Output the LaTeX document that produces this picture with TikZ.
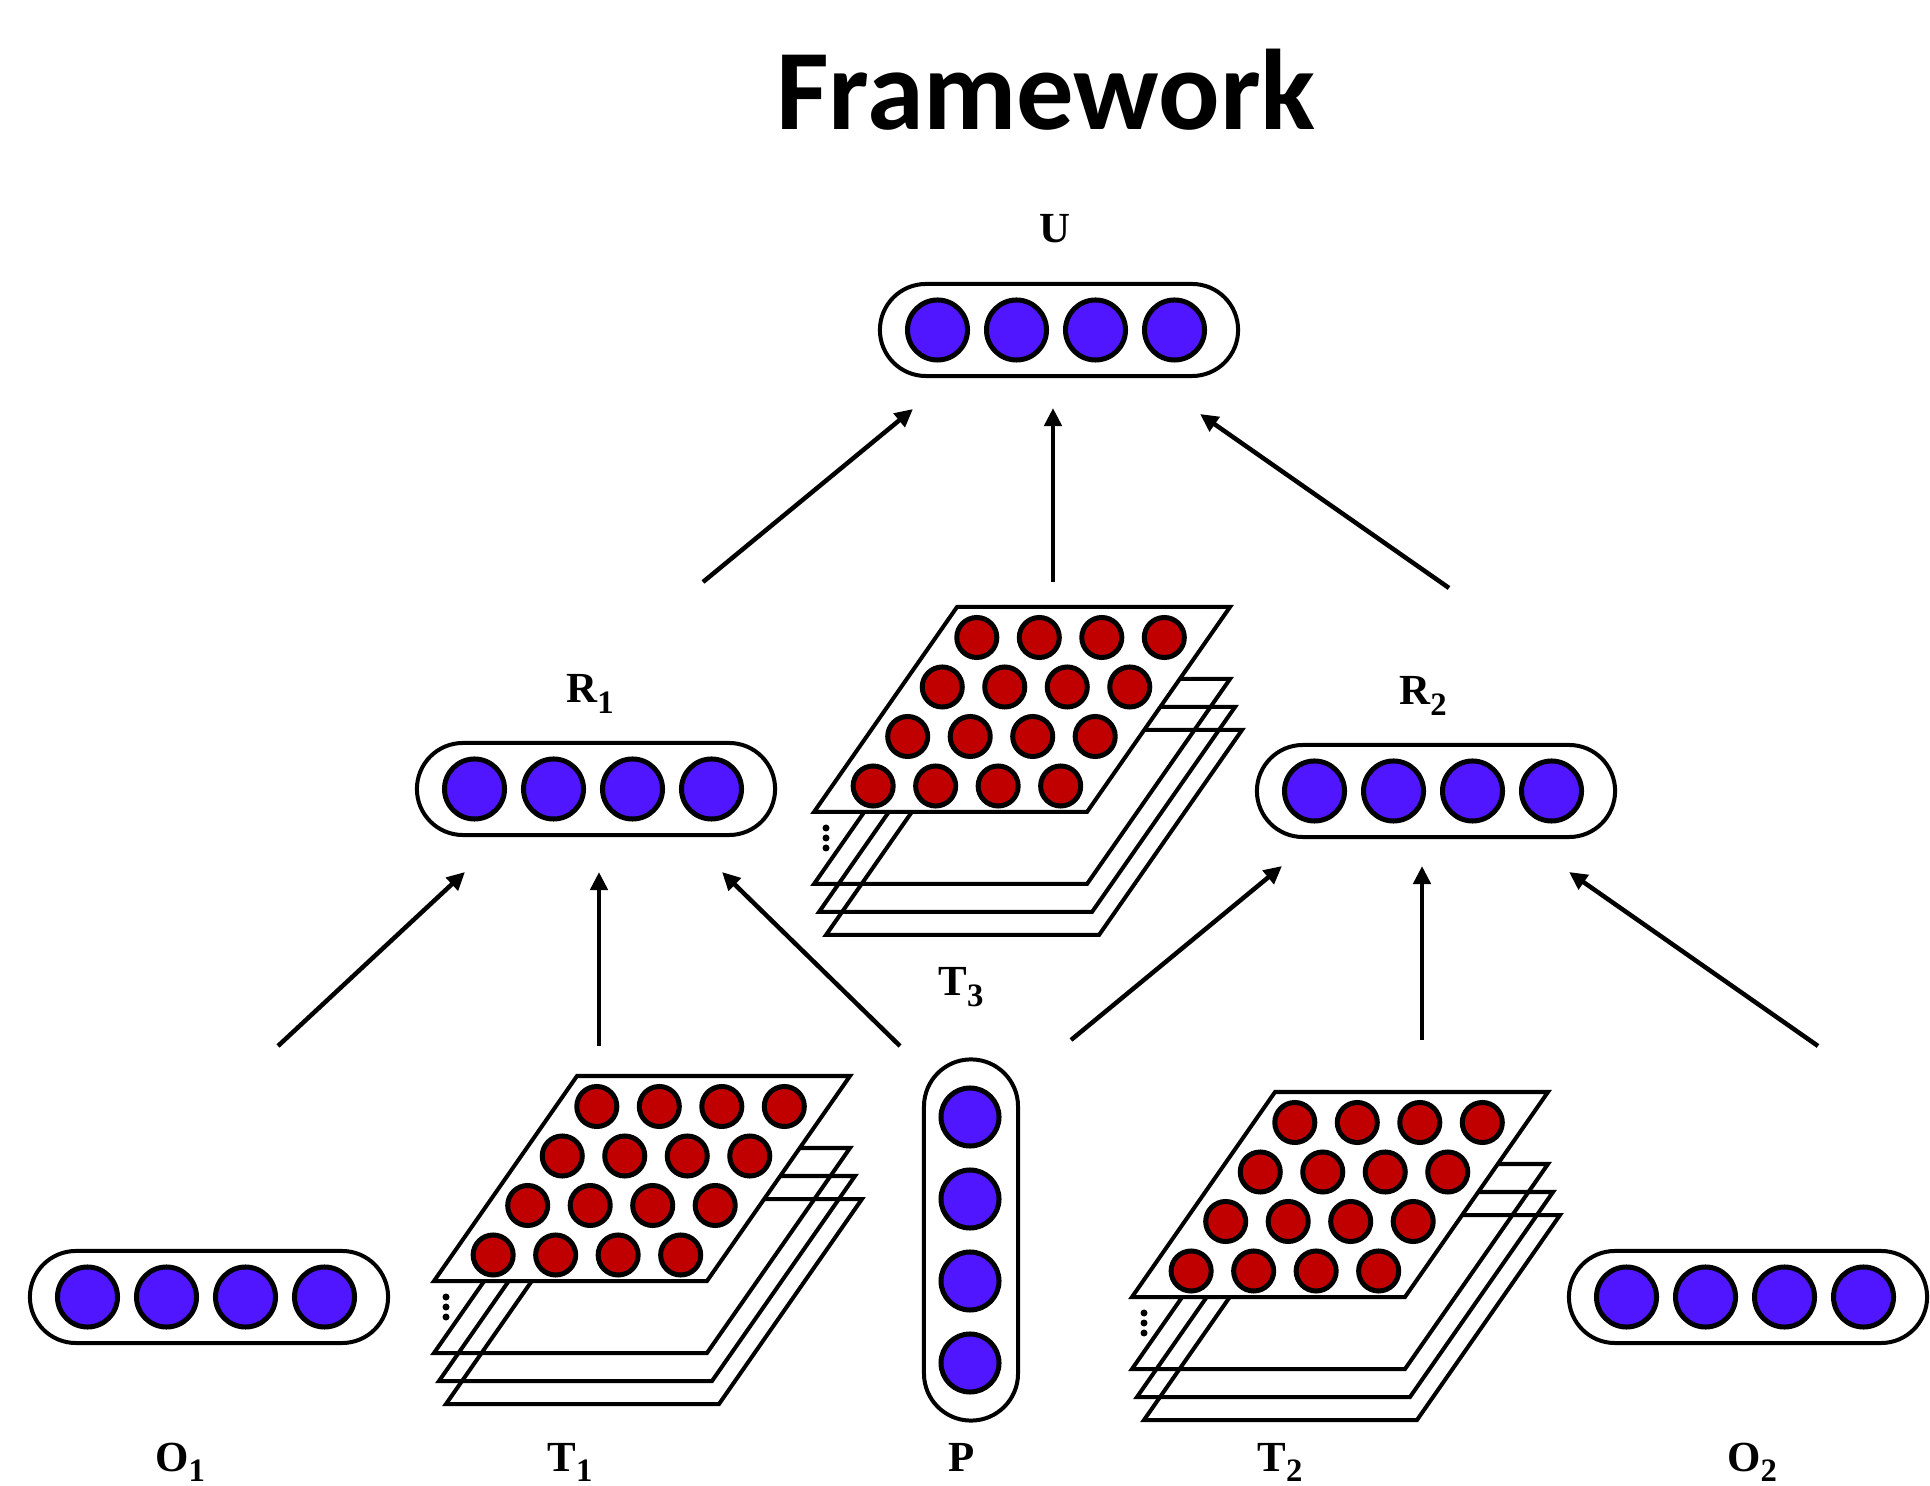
\documentclass[tikz,border=0pt]{standalone}
\usepackage{fontspec}
\setmainfont{Liberation Serif}
\newfontfamily\headfont{Carlito}
\usetikzlibrary{arrows.meta}

\definecolor{unitblue}{RGB}{80,22,255}
\definecolor{unitred}{RGB}{192,0,0}

% subscript of the layer names
\newcommand\lsub[1]{\raisebox{-3.1pt}{\fontsize{9.3}{10}\selectfont #1}}

% four units of a vector, centred at (#1,#2), horizontal
\newcommand\unitrow[2]{%
  \foreach \k in {-118.5,-39.5,39.5,118.5}
    \draw[unit] ({#1+\k},#2) circle[radius=0.3cm];}

% four units of a vector, centred at (#1,#2), vertical
\newcommand\unitcol[2]{%
  \foreach \k in {-123,-41,41,123}
    \draw[unit] (#1,{#2+\k}) circle[radius=0.29cm];}

% stack of feature maps; #1 name, (#2,#3) lower-left corner of the front sheet
\newcommand\featmap[3]{%
  \begin{scope}[shift={(#2,#3)}]
    \coordinate (#1) at (0,0);
    \foreach \dx/\dy in {12/123,5/100,0/72}
      \draw[sheet] (\dx,\dy) -- ++(273,0) -- ++(143,-205) -- ++(-273,0) -- cycle;
    \draw[sheet,fill=white] (0,0) -- (273,0) -- (416,-205) -- (143,-205) -- cycle;
    \foreach \j in {0,...,3}
      \foreach \i in {0,...,3}
        \draw[cell] ({41+62.5*\i+0.698*(26+49.5*\j)},{-(26+49.5*\j)}) circle[radius=0.2cm];
    \foreach \dy in {16,26,36}
      \fill (12,\dy) circle[radius=0.035cm];
  \end{scope}}

\begin{document}
\begin{tikzpicture}[x=0.01cm,y=-0.01cm,
  sheet/.style={line width=0.04cm},
  cell/.style={draw,line width=0.05cm,fill=unitred},
  unit/.style={draw,line width=0.05cm,fill=unitblue},
  vecbox/.style={draw,line width=0.04cm,rounded corners=0.46cm,
    minimum width=3.58cm,minimum height=0.92cm,inner sep=0pt,fill=white},
  pbox/.style={draw,line width=0.04cm,rounded corners=0.47cm,
    minimum width=0.94cm,minimum height=3.61cm,inner sep=0pt,fill=white},
  flow/.style={line width=0.045cm,-{Triangle[length=0.18cm,width=0.17cm]}},
  lbl/.style={anchor=base,inner sep=0pt,font=\bfseries\fontsize{12.2}{14}\selectfont}]

\path[fill=white,use as bounding box] (0,0) rectangle (1930,1486);

% title
\node[anchor=base,inner sep=0pt,font=\headfont\bfseries\fontsize{32.6}{38}\selectfont]
  (title) at (1046,130) {Framework};

% vector layers
\node[vecbox] (U)  at (1059,330) {};  \unitrow{1056}{330}
\node[vecbox] (R1) at (596,789)  {};  \unitrow{593}{789}
\node[vecbox] (R2) at (1436,791) {};  \unitrow{1433}{791}
\node[vecbox] (O1) at (209,1297) {};  \unitrow{206}{1297}
\node[vecbox] (O2) at (1748,1297) {}; \unitrow{1745}{1297}
\node[pbox]   (P)  at (971,1240) {};  \unitcol{970}{1240}

% feature-map stacks
\featmap{T1}{434}{1281}
\featmap{T2}{1132}{1297}
\featmap{T3}{814}{812}

% layer names
\node[lbl] (U label)  at (1055,243) {U};
\node[lbl] (R1 label) at (590,703)  {R\lsub{1}};
\node[lbl] (R2 label) at (1423,705) {R\lsub{2}};
\node[lbl] (T3 label) at (961,996)  {T\lsub{3}};
\node[lbl] (O1 label) at (180,1471) {O\lsub{1}};
\node[lbl] (T1 label) at (570,1471) {T\lsub{1}};
\node[lbl] (P label)  at (962,1471) {P};
\node[lbl] (T2 label) at (1280,1471) {T\lsub{2}};
\node[lbl] (O2 label) at (1752,1471) {O\lsub{2}};

% connector ends
\coordinate (O1 out)  at (278,1046);
\coordinate (T1 out)  at (599,1046);
\coordinate (P out1)  at (900,1046);
\coordinate (P out2)  at (1071,1040);
\coordinate (T2 out)  at (1422,1040);
\coordinate (O2 out)  at (1818,1046);
\coordinate (R1 in1)  at (465,872);
\coordinate (R1 in2)  at (599,872);
\coordinate (R1 in3)  at (722,872);
\coordinate (R2 in1)  at (1282,866);
\coordinate (R2 in2)  at (1422,866);
\coordinate (R2 in3)  at (1569,872);
\coordinate (R1 out)  at (703,582);
\coordinate (T3 out)  at (1053,582);
\coordinate (R2 out)  at (1449,588);
\coordinate (U in1)   at (913,409);
\coordinate (U in2)   at (1053,408);
\coordinate (U in3)   at (1200,414);

% connectors
\draw[flow] (O1 out) -- (R1 in1);
\draw[flow] (T1 out) -- (R1 in2);
\draw[flow] (P out1) -- (R1 in3);
\draw[flow] (P out2) -- (R2 in1);
\draw[flow] (T2 out) -- (R2 in2);
\draw[flow] (O2 out) -- (R2 in3);
\draw[flow] (R1 out) -- (U in1);
\draw[flow] (T3 out) -- (U in2);
\draw[flow] (R2 out) -- (U in3);
\end{tikzpicture}
\end{document}
